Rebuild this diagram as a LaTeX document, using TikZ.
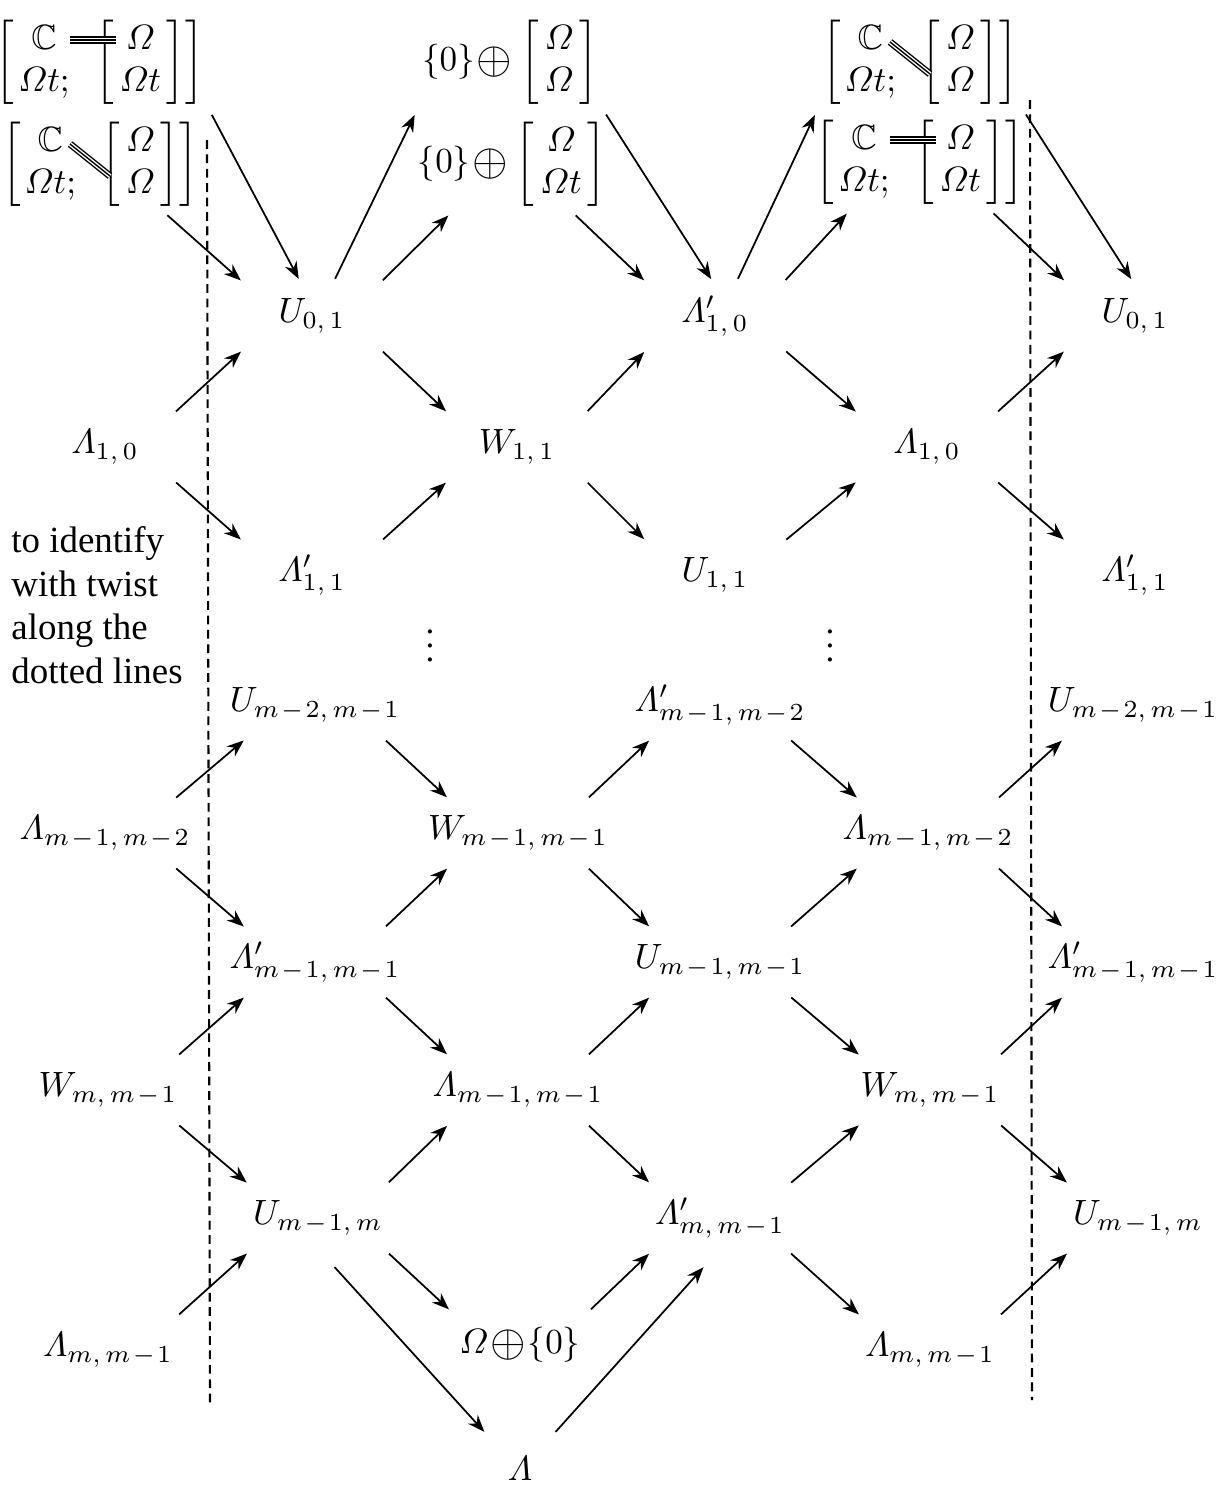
\documentclass[tikz,border=0pt]{standalone}
\usepackage{amsmath,amssymb}
\usepackage{fontspec}
\setmainfont{Liberation Serif}
\usetikzlibrary{arrows.meta,calc}

% label of fixed size, text centred on the node
\newcommand\lb[1]{\makebox[0pt]{$#1$}}
% big circled plus, set tight
\newcommand\bplus{\mkern1mu\vcenter{\hbox{\scalebox{1.3}{$\oplus$}}}\mkern1mu}
% spaced minus in subscripts
\newcommand\mi{\mkern1.5mu{-}\mkern1.5mu}
% bracket with C and an inner column
\newcommand\boxC[1]{\left[\mkern2mu\begin{matrix}\mathbb{C}\\ \varOmega t;\end{matrix}\;\;\left[\,\begin{matrix}\varOmega\\ #1\end{matrix}\,\right]\right]}
% three parallel strokes
\newcommand\trip[2]{\draw[thin, double distance=1.2pt] #1 -- #2; \draw[thin] #1 -- #2;}

\begin{document}
\begin{tikzpicture}[
    x=1cm, y=1cm,
    line width=0.5pt,
    >={Stealth[length=1.7mm, width=1.3mm]},
    lat/.style={minimum width=1.3cm, minimum height=0.6cm, inner sep=0pt},
    top/.style={inner sep=1pt},
    arr/.style={->, shorten <=2pt, shorten >=2pt}
]
    \useasboundingbox (0,0) rectangle (12.18,-14.89);

    % --- 1. top row (Nodes) ---
    \node[top] (tlA) at (1.00,-0.62) {$\boxC{\varOmega t}$};
    \node[top] (tlB) at (1.00,-1.64) {$\boxC{\varOmega}$};
    \node[top] (tmA) at (5.10,-0.62) {$\{0\}\bplus\left[\,\begin{matrix}\varOmega\\ \varOmega\end{matrix}\,\right]$};
    \node[top] (tmB) at (5.12,-1.64) {$\{0\}\bplus\left[\,\begin{matrix}\varOmega\\ \varOmega t\end{matrix}\,\right]$};
    \node[top] (trA) at (9.20,-0.62) {$\boxC{\varOmega}$};
    \node[top] (trB) at (9.20,-1.62) {$\boxC{\varOmega t}$};

    % triple strokes inside the brackets
    \trip{($(tlA)+(-0.30,0.22)$)}{($(tlA)+(0.16,0.22)$)}
    \trip{($(tlB)+(-0.30,0.20)$)}{($(tlB)+(0.10,-0.12)$)}
    \trip{($(trA)+(-0.30,0.20)$)}{($(trA)+(0.10,-0.12)$)}
    \trip{($(trB)+(-0.30,0.22)$)}{($(trB)+(0.16,0.22)$)}

    % --- 2. lattice (Nodes) ---
    % first column
    \node[lat] (La1) at (1.05,-4.47) {\lb{\varLambda_{1,\,0}}};
    \node[lat] (La2) at (1.05,-8.33) {\lb{\varLambda_{m\mi1,\,m\mi2}}};
    \node[lat] (Wa)  at (1.08,-10.90) {\lb{W_{m,\,m\mi1}}};
    \node[lat] (La3) at (1.08,-13.50) {\lb{\varLambda_{m,\,m\mi1}}};
    % second column
    \node[lat] (Ub1) at (3.12,-3.16) {\lb{U_{0,\,1}}};
    \node[lat] (Lb1) at (3.12,-5.75) {\lb{\varLambda'_{1,\,1}}};
    \node[lat] (Ub2) at (3.15,-7.05) {\lb{U_{m\mi2,\,m\mi1}}};
    \node[lat] (Lb2) at (3.15,-9.62) {\lb{\varLambda'_{m\mi1,\,m\mi1}}};
    \node[lat] (Ub3) at (3.18,-12.18) {\lb{U_{m\mi1,\,m}}};
    % third column
    \node[lat] (Wc1) at (5.17,-4.47) {\lb{W_{1,\,1}}};
    \node[lat] (Wc2) at (5.18,-8.33) {\lb{W_{m\mi1,\,m\mi1}}};
    \node[lat] (Lc)  at (5.18,-10.90) {\lb{\varLambda_{m\mi1,\,m\mi1}}};
    \node[lat] (Oc)  at (5.20,-13.45) {\lb{\varOmega\bplus\{0\}}};
    \node[lat, minimum width=0.6cm] (Lam) at (5.20,-14.68) {\lb{\varLambda}};
    % fourth column
    \node[lat] (Ld1) at (7.15,-3.16) {\lb{\varLambda'_{1,\,0}}};
    \node[lat] (Ud1) at (7.15,-5.75) {\lb{U_{1,\,1}}};
    \node[lat] (Ld2) at (7.20,-7.05) {\lb{\varLambda'_{m\mi1,\,m\mi2}}};
    \node[lat] (Ud2) at (7.20,-9.62) {\lb{U_{m\mi1,\,m\mi1}}};
    \node[lat] (Ld3) at (7.20,-12.18) {\lb{\varLambda'_{m,\,m\mi1}}};
    % fifth column
    \node[lat] (Le1) at (9.27,-4.47) {\lb{\varLambda_{1,\,0}}};
    \node[lat] (Le2) at (9.28,-8.33) {\lb{\varLambda_{m\mi1,\,m\mi2}}};
    \node[lat] (We)  at (9.30,-10.90) {\lb{W_{m,\,m\mi1}}};
    \node[lat] (Le3) at (9.30,-13.50) {\lb{\varLambda_{m,\,m\mi1}}};
    % sixth column
    \node[lat] (Uf1) at (11.35,-3.16) {\lb{U_{0,\,1}}};
    \node[lat] (Lf1) at (11.35,-5.75) {\lb{\varLambda'_{1,\,1}}};
    \node[lat] (Uf2) at (11.33,-7.05) {\lb{U_{m\mi2,\,m\mi1}}};
    \node[lat] (Lf2) at (11.33,-9.62) {\lb{\varLambda'_{m\mi1,\,m\mi1}}};
    \node[lat] (Uf3) at (11.38,-12.18) {\lb{U_{m\mi1,\,m}}};

    % dots and note
    \node (dl) at (4.30,-6.35) {$\vdots$};
    \node (dr) at (8.30,-6.35) {$\vdots$};
    \node[align=left, font=\fontsize{10.5}{12.4}\selectfont] (note) at (0.97,-6.05)
        {to identify\\with twist\\along the\\dotted lines};

    % --- 3. dotted lines for the twist ---
    \draw[line width=0.6pt, dash pattern=on 2.5pt off 1.6pt] (2.07,-1.40) -- (2.10,-14.05);
    \draw[line width=0.6pt, dash pattern=on 2.5pt off 1.6pt] (10.30,-1.00) -- (10.32,-14.00);

    % --- 4. arrows from the top row ---
    \draw[arr] (tlA.south east) -- ([xshift=-1mm]Ub1.north);
    \draw[arr] ([xshift=-4mm]tlB.south east) -- (Ub1.north west);
    \draw[arr] ([xshift=2mm]Ub1.north) -- (tmA.south west);
    \draw[arr] (Ub1.north east) -- ([xshift=4mm]tmB.south west);
    \draw[arr] ([xshift=-4mm]tmB.south east) -- (Ld1.north west);
    \draw[arr] (tmA.south east) -- (Ld1.north);
    \draw[arr] ([xshift=2mm]Ld1.north) -- (trA.south west);
    \draw[arr] (Ld1.north east) -- ([xshift=4mm]trB.south west);
    \draw[arr] ([xshift=-4mm]trB.south east) -- (Uf1.north west);
    \draw[arr] (trA.south east) -- (Uf1.north);

    % --- 5. arrows going up to the right ---
    \draw[arr] (La1.north east) -- (Ub1.south west);
    \draw[arr] (Lb1.north east) -- (Wc1.south west);
    \draw[arr] (Wc1.north east) -- (Ld1.south west);
    \draw[arr] (Ud1.north east) -- (Le1.south west);
    \draw[arr] (Le1.north east) -- (Uf1.south west);
    \draw[arr] (La2.north east) -- (Ub2.south west);
    \draw[arr] (Lb2.north east) -- (Wc2.south west);
    \draw[arr] (Wc2.north east) -- (Ld2.south west);
    \draw[arr] (Ud2.north east) -- (Le2.south west);
    \draw[arr] (Le2.north east) -- (Uf2.south west);
    \draw[arr] (Wa.north east) -- (Lb2.south west);
    \draw[arr] (Ub3.north east) -- (Lc.south west);
    \draw[arr] (Lc.north east) -- (Ud2.south west);
    \draw[arr] (Ld3.north east) -- (We.south west);
    \draw[arr] (We.north east) -- (Lf2.south west);
    \draw[arr] (La3.north east) -- (Ub3.south west);
    \draw[arr] (Oc.north east) -- (Ld3.south west);
    \draw[arr] (Le3.north east) -- (Uf3.south west);

    % --- 6. arrows going down to the right ---
    \draw[arr] (Ub1.south east) -- (Wc1.north west);
    \draw[arr] (La1.south east) -- (Lb1.north west);
    \draw[arr] (Wc1.south east) -- (Ud1.north west);
    \draw[arr] (Ld1.south east) -- (Le1.north west);
    \draw[arr] (Le1.south east) -- (Lf1.north west);
    \draw[arr] (Ub2.south east) -- (Wc2.north west);
    \draw[arr] (La2.south east) -- (Lb2.north west);
    \draw[arr] (Wc2.south east) -- (Ud2.north west);
    \draw[arr] (Ld2.south east) -- (Le2.north west);
    \draw[arr] (Le2.south east) -- (Lf2.north west);
    \draw[arr] (Lb2.south east) -- (Lc.north west);
    \draw[arr] (Wa.south east) -- (Ub3.north west);
    \draw[arr] (Lc.south east) -- (Ld3.north west);
    \draw[arr] (Ud2.south east) -- (We.north west);
    \draw[arr] (We.south east) -- (Uf3.north west);
    \draw[arr] (Ub3.south east) -- (Oc.north west);
    \draw[arr] (Ld3.south east) -- (Le3.north west);

    % --- 7. long arrows through the bottom ---
    \draw[arr, shorten <=7pt] (Ub3.south) -- (Lam.north west);
    \draw[arr, shorten >=7pt] (Lam.north east) -- (Ld3.south);

\end{tikzpicture}
\end{document}
